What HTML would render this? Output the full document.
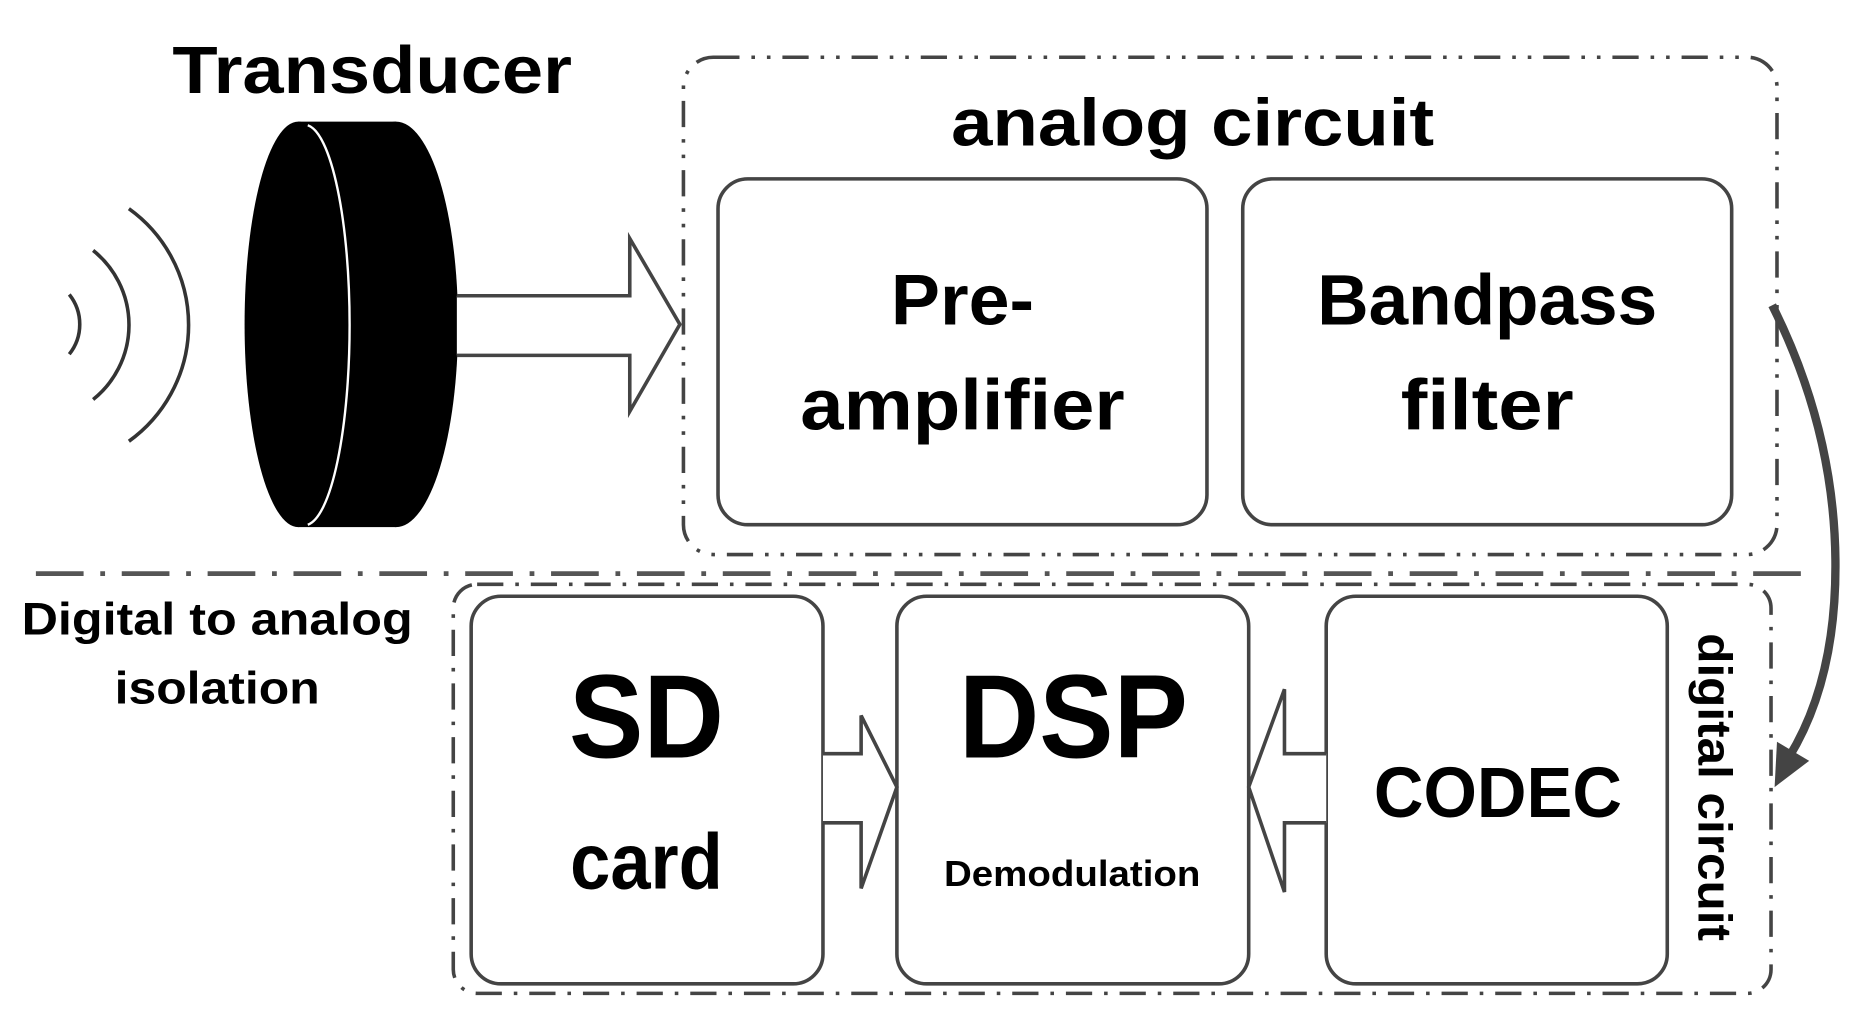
<!DOCTYPE html>
<html><head><meta charset="utf-8"><style>html,body{margin:0;padding:0;background:#fff;}svg{display:block}</style></head>
<body>
<svg width="1857" height="1022" viewBox="0 0 1557 857" xmlns="http://www.w3.org/2000/svg" font-family="Liberation Sans, sans-serif" font-weight="bold">
<rect width="1557" height="857" fill="#fff"/>
<text x="312" y="78" font-size="56" text-anchor="middle" textLength="335" lengthAdjust="spacingAndGlyphs">Transducer</text>
<g fill="none" stroke="#333" stroke-width="3">
<path d="M58,247 A40,40 0 0 1 58,297"/>
<path d="M78,210 A80,80 0 0 1 78,335"/>
<path d="M108,175 A120,120 0 0 1 108,370"/>
</g>
<ellipse cx="250" cy="272" rx="45" ry="170" fill="#000"/>
<rect x="250" y="102" width="82" height="340" fill="#000"/>
<ellipse cx="332" cy="272" rx="52" ry="170" fill="#000"/>
<path d="M258,105 A38,168 0 0 1 258,440" fill="none" stroke="#fff" stroke-width="2"/>
<path d="M383,248 H528 V200 L570,272 L528,345 V298 H383" fill="#fff" stroke="#444" stroke-width="3"/>
<rect x="573" y="48" width="917" height="417" rx="25" fill="none" stroke="#444" stroke-width="3" stroke-dasharray="22,10,3,10,3,10"/>
<text x="1000" y="122" font-size="56" text-anchor="middle" textLength="405" lengthAdjust="spacingAndGlyphs">analog circuit</text>
<rect x="602" y="150" width="410" height="290" rx="25" fill="#fff" stroke="#444" stroke-width="3"/>
<rect x="1042" y="150" width="410" height="290" rx="25" fill="#fff" stroke="#444" stroke-width="3"/>
<g font-size="60" text-anchor="middle">
<text x="807" y="272" textLength="120" lengthAdjust="spacingAndGlyphs">Pre-</text>
<text x="807" y="360" textLength="272" lengthAdjust="spacingAndGlyphs">amplifier</text>
<text x="1247" y="272" textLength="285" lengthAdjust="spacingAndGlyphs">Bandpass</text>
<text x="1247" y="360" textLength="145" lengthAdjust="spacingAndGlyphs">filter</text>
</g>
<path d="M1486,256 Q1538,360 1539,470 Q1540,570 1500,635" fill="none" stroke="#444" stroke-width="7"/>
<path d="M1488,660 L1490,622 L1517,638 Z" fill="#444"/>
<line x1="30" y1="481" x2="1520" y2="481" stroke="#555" stroke-width="4" stroke-dasharray="40,14,4,14"/>
<rect x="380" y="490" width="1105" height="343" rx="20" fill="none" stroke="#444" stroke-width="3" stroke-dasharray="22,10,3,10"/>
<g font-size="38" text-anchor="middle">
<text x="182" y="532" textLength="328" lengthAdjust="spacingAndGlyphs">Digital to analog</text>
<text x="182" y="590" textLength="172" lengthAdjust="spacingAndGlyphs">isolation</text>
</g>
<rect x="395" y="500" width="295" height="325" rx="25" fill="#fff" stroke="#444" stroke-width="3"/>
<rect x="752" y="500" width="295" height="325" rx="25" fill="#fff" stroke="#444" stroke-width="3"/>
<rect x="1112" y="500" width="286" height="325" rx="25" fill="#fff" stroke="#444" stroke-width="3"/>
<text x="542" y="635" font-size="100" text-anchor="middle" textLength="130" lengthAdjust="spacingAndGlyphs">SD</text>
<text x="542" y="745" font-size="66" text-anchor="middle" textLength="128" lengthAdjust="spacingAndGlyphs">card</text>
<text x="900" y="635" font-size="100" text-anchor="middle" textLength="192" lengthAdjust="spacingAndGlyphs">DSP</text>
<text x="899" y="743" font-size="30" text-anchor="middle" textLength="215" lengthAdjust="spacingAndGlyphs">Demodulation</text>
<text x="1256" y="685" font-size="60" text-anchor="middle" textLength="208" lengthAdjust="spacingAndGlyphs">CODEC</text>
<path d="M690,632 H722 V600 L752,660 L722,745 V690 H690" fill="#fff" stroke="#444" stroke-width="3"/>
<path d="M1112,632 H1077 V578 L1047,660 L1077,748 V690 H1112" fill="#fff" stroke="#444" stroke-width="3"/>
<text transform="translate(1424,660) rotate(90)" font-size="40" text-anchor="middle" textLength="258" lengthAdjust="spacingAndGlyphs">digital circuit</text>
</svg>
</body></html>
